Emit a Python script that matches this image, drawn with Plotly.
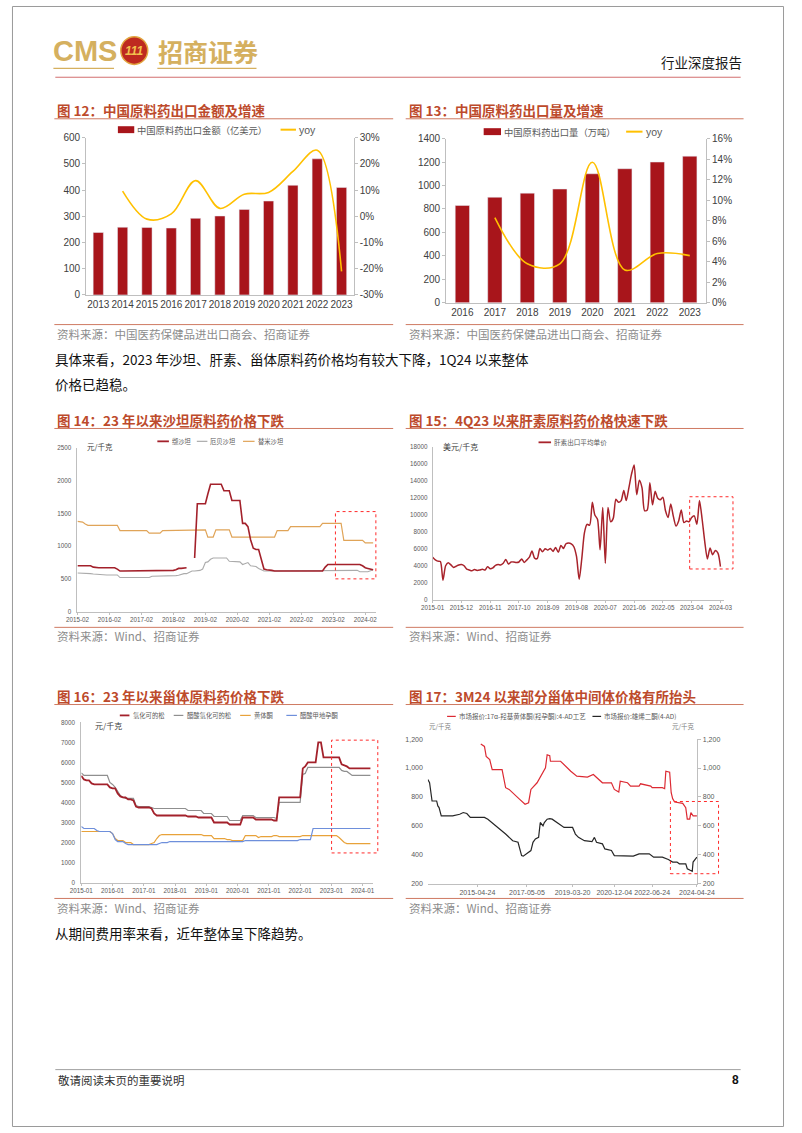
import plotly.graph_objects as go
import pandas as pd

W, H = 802, 1133
def fx(x): return x / W
def fy(y): return 1 - y / H

CN = "Noto Sans CJK SC"
LAT = "Liberation Sans, Arial, Noto Sans CJK SC"
BAR_RED = "#A8151B"
YOY_YEL = "#FFC000"
TITLE_C = "#BD4A2B"
RULE_C = "#CF7A62"
SRC_C = "#8C8C8C"
AX_C = "#BFBFBF"

# ---------------- Chart 12 data ----------------
years12 = ["2013", "2014", "2015", "2016", "2017", "2018", "2019", "2020", "2021", "2022", "2023"]
export_value = [238, 258, 257, 255, 292, 301, 326, 358, 418, 519, 410]
yoy12_years = ["2014", "2015", "2016", "2017", "2018", "2019", "2020", "2021", "2022", "2023"]
export_yoy = [0.096, -0.011, 0.009, 0.136, 0.030, 0.084, 0.091, 0.171, 0.252, -0.210]
y2_ticks12 = [-0.3, -0.2, -0.1, 0, 0.1, 0.2, 0.3]
y2_text12 = ["-30%", "-20%", "-10%", "0%", "10%", "20%", "30%"]

# ---------------- Chart 13 data ----------------
years13 = ["2016", "2017", "2018", "2019", "2020", "2021", "2022", "2023"]
export_volume = [830, 900, 935, 970, 1100, 1143, 1200, 1250]
yoy13_years = ["2017", "2018", "2019", "2020", "2021", "2022", "2023"]
volume_yoy = [0.083, 0.038, 0.038, 0.137, 0.032, 0.048, 0.046]

# ---------------- Chart 14 data (monthly 2015-02 .. 2024-05) ----------------
months14 = pd.date_range("2015-02-01", "2024-05-01", freq="MS")
valsartan = ([700] * 6 + [680] + [670] * 8 + [650] + [620] * 14 + [630] * 7 + [640, 660, 660, 670, 670]
             + [None, None] + [820] + [1650] * 4 + [1800] + [1950] * 5 + [1850] * 3 + [1700] * 4
             + [1350, 1350, 1300, 1100, 970, 950, 950, 800, 650, 640, 640, 630] + [620] * 19
             + [680] + [720] * 13 + [700, 670, 660, 650, 640])
irbesartan = ([590, 590, 590, 585, 580, 580, 575, 570, 570] + [560] * 7 + [520] * 12 + [540] * 8
              + [545, 550, 555, 570, 580, 580, 600, 620, 620, 620, 630, 650, 750, 760, 800] + [820] * 6
              + [770] * 4 + [760, 720, 740, 750, 700, 690, 690, 660, 640] + [620] * 23 + [630] * 13
              + [610] * 4 + [625, 640])
telmisartan = ([1380, 1380, 1370, 1340, 1320] + [1320] * 11 + [1240] * 11 + [1200] * 5 + [1240] * 16
               + [1250] + [1140] * 3 + [1250] * 6 + [1140] * 17 + [1240] * 5 + [1300] * 12
               + [1350] * 8 + [1090] * 8 + [1050] * 4)

# ---------------- Chart 15 data (monthly 2015-01 .. 2024-03) ----------------
months15 = pd.date_range("2015-01-01", "2024-03-01", freq="MS")
heparin = [5000, 4700, 4550, 4500, 2300, 4000, 4350, 4100, 3800, 3950, 4100, 4150,
           4000, 3600, 3500, 3400, 3550, 3450, 3500, 3600, 3500, 3900, 3650, 3750,
           4050, 4150, 4100, 4300, 4750, 4200, 4450, 4450, 4400, 4450, 4800, 4400,
           4700, 5050, 5750, 4900, 4850, 6050, 5650, 6000, 5850, 6050, 5700, 6150,
           5600, 6400, 6050, 6600, 6700, 6600, 6250, 5100, 2400, 4800, 7900, 8900,
           8800, 11500, 10000, 9500, 5900, 10900, 4300, 10900, 9200, 9600, 11850, 11500,
           11700, 12900, 11700, 13200, 14800, 15900, 12400, 14100, 13200, 10500, 10600, 13800,
           11200, 12800, 12000, 11800, 12100, 10500, 9700, 11300, 9800, 8700, 9300, 10600,
           9100, 9300, 9200, 9700, 9900, 8900, 11700, 9500, 6800, 4800, 6100, 5300,
           5800, 5500, 3900]

# ---------------- Chart 16 data (monthly 2015-01 .. 2024-04) ----------------
months16 = pd.date_range("2015-01-01", "2024-04-01", freq="MS")
hydrocortisone = ([5330, 5150, 5100, 5100, 4950] + [4900] * 6
                  + [4750, 4700, 4700, 4450, 4300, 4250, 4250, 4150, 4150, 4100, 3800] + [3750] * 5
                  + [3700, 3450, 3350] + [3350] * 11 + [3300] * 4 + [3250] * 6 + [3000] + [3000] * 5
                  + [2900] * 5 + [3250] + [3250] * 4 + [3150] * 7 + [3100, 3100] + [4250] + [4250] * 7
                  + [4250] + [5700, 5800, 6000] + [6000] * 3 + [7000, 7000] + [6250] + [6250] * 6
                  + [5900, 5850, 5800, 5700] + [5700] * 8)
hydrocortisone_ac = ([5480, 5350] + [5350] * 9 + [5000, 4900, 4750, 4550, 4350, 4250] + [4200] * 4
                     + [3850] + [3800] * 5 + [3750] + [3700] * 13 + [3600] * 6 + [3450] * 4
                     + [3300] * 6 + [3100] * 5 + [3350] * 5 + [3250] * 8 + [3200] + [4000] * 9
                     + [5400, 5450, 5750] + [5750] * 12 + [5600, 5550, 5550, 5450] + [5350] * 8)
progesterone = ([2550] * 12 + [2450, 2200] + [2100] * 3 + [2000] * 3 + [1900] * 7
                + [1950, 2000, 2200, 2350] + [2400] * 16 + [2350] * 4 + [2200] * 5 + [2150] * 2
                + [2100] * 5 + [2350] + [2350] * 4 + [2250] + [2300] * 5 + [2350] * 2 + [2300] * 9
                + [2350] * 14 + [2250, 2150, 2000] + [1950] * 10)
megestrol_ac = ([2800] + [2700] * 5 + [2600] + [2550] * 5 + [2450, 2150] + [2050] * 3 + [1950]
                + [1900] * 12 + [1950] + [2000] * 3 + [2050] * 29 + [2100] * 21 + [2150] * 5
                + [2700] * 23)

# ---------------- Chart 17 data ----------------
ohp_dates = ["2015-06-14", "2015-08-08", "2015-09-03", "2015-10-26", "2015-12-02", "2016-04-28",
             "2016-06-20", "2016-08-11", "2017-01-17", "2017-04-07", "2017-05-30", "2017-07-04",
             "2017-10-04", "2018-02-07", "2018-03-04", "2018-04-12", "2018-04-22", "2018-09-21",
             "2019-02-21", "2019-05-22", "2019-10-28", "2020-01-25", "2020-06-09", "2020-10-22",
             "2020-12-04", "2021-02-09", "2021-03-03", "2021-06-20", "2021-08-04", "2021-12-10",
             "2022-01-01", "2022-06-03", "2022-06-24", "2022-11-24", "2022-12-28", "2023-01-15",
             "2023-03-13", "2023-04-05", "2023-04-27", "2023-05-27", "2023-09-25", "2023-11-09",
             "2023-12-02", "2024-01-07", "2024-01-25", "2024-02-27", "2024-04-24"]
ohp_price = [1166, 1150, 1081, 1058, 989, 989, 864, 852, 783, 749, 760, 852,
             898, 1001, 1092, 1085, 1047, 1047, 978, 944, 937, 955, 898, 898,
             852, 834, 909, 898, 875, 875, 891, 875, 864, 864, 857, 978,
             971, 829, 788, 765, 756, 726, 646, 646, 692, 669, 669]
ad_dates = ["2013-04-12", "2013-05-08", "2013-06-14", "2013-08-22", "2013-09-09", "2013-09-27",
            "2013-10-30", "2014-04-19", "2014-08-03", "2014-09-24", "2014-11-17", "2015-01-08",
            "2015-08-08", "2015-09-28", "2016-06-20", "2016-10-04", "2016-12-23", "2017-02-14",
            "2017-03-11", "2017-05-05", "2017-07-04", "2017-08-04", "2017-09-09", "2017-10-27",
            "2017-11-21", "2018-01-01", "2018-01-21", "2018-03-04", "2018-04-12", "2018-05-18",
            "2018-08-03", "2018-11-12", "2019-03-20", "2019-05-01", "2019-06-16", "2019-09-13",
            "2020-01-04", "2020-02-10", "2020-03-12", "2020-06-09", "2020-07-15", "2020-10-22",
            "2020-12-04", "2021-09-14", "2021-12-10", "2022-05-11", "2022-07-16", "2022-11-24",
            "2023-02-21", "2023-04-27", "2023-07-01", "2023-08-05", "2023-11-09", "2023-12-02",
            "2024-01-15", "2024-02-14", "2024-02-27", "2024-03-21", "2024-04-24"]
ad_price = [921, 898, 772, 772, 738, 726, 669, 669, 680, 692, 685, 658,
            658, 646, 543, 497, 486, 394, 390, 406, 429, 486, 509, 520,
            623, 600, 623, 646, 650, 646, 623, 589, 589, 543, 520, 497,
            490, 520, 486, 475, 440, 429, 394, 390, 406, 406, 383, 383,
            367, 349, 349, 337, 337, 303, 292, 285, 349, 360, 383]
ticks17 = ["2015-04-24", "2017-05-05", "2019-03-20", "2020-12-04", "2022-06-24", "2024-04-24"]

fig = go.Figure()

# Chart 12
fig.add_trace(go.Bar(x=years12, y=export_value, name="中国原料药出口金额（亿美元）", marker_color=BAR_RED,
                     width=0.42, xaxis="x", yaxis="y", showlegend=False))
fig.add_trace(go.Scatter(x=yoy12_years, y=export_yoy, name="yoy", mode="lines",
                         line=dict(color=YOY_YEL, width=1.6, shape="spline", smoothing=1.0),
                         xaxis="x", yaxis="y2", showlegend=False))
# Chart 13
fig.add_trace(go.Bar(x=years13, y=export_volume, name="中国原料药出口量（万吨）", marker_color=BAR_RED,
                     width=0.44, xaxis="x2", yaxis="y3", showlegend=False))
fig.add_trace(go.Scatter(x=yoy13_years, y=volume_yoy, name="yoy", mode="lines",
                         line=dict(color=YOY_YEL, width=1.6, shape="spline", smoothing=1.0),
                         xaxis="x2", yaxis="y4", showlegend=False))
# Chart 14
fig.add_trace(go.Scatter(x=months14, y=irbesartan, name="厄贝沙坦", mode="lines",
                         line=dict(color="#ABABAB", width=1.1), xaxis="x3", yaxis="y5", showlegend=False))
fig.add_trace(go.Scatter(x=months14, y=telmisartan, name="替米沙坦", mode="lines",
                         line=dict(color="#E0A458", width=1.2), xaxis="x3", yaxis="y5", showlegend=False))
fig.add_trace(go.Scatter(x=months14, y=valsartan, name="缬沙坦", mode="lines", connectgaps=False,
                         line=dict(color="#A3212B", width=1.6), xaxis="x3", yaxis="y5", showlegend=False))
# Chart 15
fig.add_trace(go.Scatter(x=months15, y=heparin, name="肝素出口平均单价", mode="lines",
                         line=dict(color="#A8232B", width=1.5, shape="spline", smoothing=0.7),
                         xaxis="x4", yaxis="y6", showlegend=False))
# Chart 16
fig.add_trace(go.Scatter(x=months16, y=hydrocortisone_ac, name="醋酸氢化可的松", mode="lines",
                         line=dict(color="#8F8F8F", width=1.2), xaxis="x5", yaxis="y7", showlegend=False))
fig.add_trace(go.Scatter(x=months16, y=progesterone, name="黄体酮", mode="lines",
                         line=dict(color="#E8A23A", width=1.2), xaxis="x5", yaxis="y7", showlegend=False))
fig.add_trace(go.Scatter(x=months16, y=megestrol_ac, name="醋酸甲地孕酮", mode="lines",
                         line=dict(color="#6E8FDB", width=1.2), xaxis="x5", yaxis="y7", showlegend=False))
fig.add_trace(go.Scatter(x=months16, y=hydrocortisone, name="氢化可的松", mode="lines",
                         line=dict(color="#A3212B", width=1.8), xaxis="x5", yaxis="y7", showlegend=False))
# Chart 17
fig.add_trace(go.Scatter(x=ad_dates, y=ad_price, name="市场报价:雄烯二酮(4-AD)", mode="lines",
                         line=dict(color="#262626", width=1.2), xaxis="x6", yaxis="y8", showlegend=False))
fig.add_trace(go.Scatter(x=ohp_dates, y=ohp_price, name="市场报价:17α-羟基黄体酮(羟孕酮):4-AD工艺",
                         mode="lines", line=dict(color="#DC2A33", width=1.2), xaxis="x6", yaxis="y9",
                         showlegend=False))

tf_big = dict(family=LAT, size=10, color="#404040")
tf_small = dict(family=LAT, size=6.3, color="#595959")
common = dict(showgrid=False, zeroline=False, showline=True, linecolor=AX_C, linewidth=1)

fig.update_layout(
    width=W, height=H, autosize=False,
    margin=dict(l=0, r=0, t=0, b=0),
    paper_bgcolor="white", plot_bgcolor="white",
    showlegend=False,
    font=dict(family=LAT),
    xaxis=dict(domain=[fx(77), fx(355)], anchor="y", type="category", range=[-0.5, 10.5],
               tickfont=tf_big, ticks="", tickangle=0, **common),
    yaxis=dict(domain=[fy(292), fy(133)], anchor="x", range=[0, 600], dtick=100,
               tickfont=tf_big, ticks="outside", ticklen=3, tickcolor=AX_C, **common),
    yaxis2=dict(overlaying="y", side="right", anchor="x", range=[-0.3, 0.3],
                tickvals=y2_ticks12, ticktext=y2_text12,
                tickfont=tf_big, ticks="outside", ticklen=3, tickcolor=AX_C, **common),
    xaxis2=dict(domain=[fx(451), fx(721)], anchor="y3", type="category", range=[-0.5, 7.5],
                tickfont=tf_big, ticks="", tickangle=0, **common),
    yaxis3=dict(domain=[fy(300), fy(134)], anchor="x2", range=[0, 1400], dtick=200,
                tickfont=tf_big, ticks="outside", ticklen=3, tickcolor=AX_C, **common),
    yaxis4=dict(overlaying="y3", side="right", anchor="x2", range=[0, 0.16], dtick=0.02,
                tickformat=".0%", tickfont=tf_big, ticks="outside", ticklen=3, tickcolor=AX_C, **common),
    xaxis3=dict(domain=[fx(68), fx(378)], anchor="y5", type="date", tickangle=0,
                range=["2015-02-01", "2024-06-01"], tick0="2015-02-01", dtick="M12", tickformat="%Y-%m",
                tickfont=tf_small, ticks="outside", ticklen=2, tickcolor=AX_C, **common),
    yaxis5=dict(domain=[fy(612), fy(447)], anchor="x3", range=[0, 2500], dtick=500, tickformat="d",
                tickfont=tf_small, ticks="", ticklabelstandoff=4, **common),
    xaxis4=dict(domain=[fx(437), fx(740)], anchor="y6", type="date", tickangle=0,
                range=["2015-01-01", "2024-04-15"], tick0="2015-01-01", dtick="M11", tickformat="%Y-%m",
                tickfont=tf_small, ticks="outside", ticklen=2, tickcolor=AX_C, **common),
    yaxis6=dict(domain=[fy(600), fy(446)], anchor="x4", range=[0, 18000], dtick=2000, tickformat="d",
                tickfont=tf_small, ticks="", ticklabelstandoff=3, **common),
    xaxis5=dict(domain=[fx(72), fx(375)], anchor="y7", type="date", tickangle=0,
                range=["2015-01-01", "2024-05-01"], tick0="2015-01-01", dtick="M12", tickformat="%Y-%m",
                tickfont=tf_small, ticks="outside", ticklen=2, tickcolor=AX_C, **common),
    yaxis7=dict(domain=[fy(886), fy(724)], anchor="x5", range=[0, 8000], dtick=1000, tickformat="d",
                tickfont=tf_small, ticks="", ticklabelstandoff=4, **common),
    xaxis6=dict(domain=[fx(432), fx(712)], anchor="y8", type="date", tickangle=0,
                range=["2013-04-12", "2024-05-01"], tickvals=ticks17, tickformat="%Y-%m-%d",
                tickfont=dict(family=LAT, size=7, color="#595959"), ticks="outside", ticklen=2,
                tickcolor=AX_C, **common),
    yaxis8=dict(domain=[fy(887), fy(741)], anchor="x6", range=[200, 1200], dtick=200, tickformat=",",
                tickfont=dict(family=LAT, size=7, color="#595959"), showgrid=False, zeroline=False,
                showline=False, ticks="", ticklabelstandoff=4),
    yaxis9=dict(overlaying="y8", side="right", anchor="x6", range=[200, 1200], dtick=200, tickformat=",",
                tickfont=dict(family=LAT, size=7, color="#595959"), ticks="outside", ticklen=3,
                tickcolor=AX_C, **common),
)

shapes = []
annots = []

def line(x0, y0, x1, y1, color, width=1, dash="solid"):
    shapes.append(dict(type="line", xref="paper", yref="paper", x0=fx(x0), y0=fy(y0), x1=fx(x1), y1=fy(y1),
                       line=dict(color=color, width=width, dash=dash)))

def rect(x0, y0, x1, y1, fill=None, color=None, width=0, dash="solid"):
    d = dict(type="rect", xref="paper", yref="paper", x0=fx(x0), y0=fy(y1), x1=fx(x1), y1=fy(y0),
             line=dict(color=color if color else "rgba(0,0,0,0)", width=width, dash=dash))
    if fill:
        d["fillcolor"] = fill
    shapes.append(d)

def text(t, x, y, size, color="#000000", anchor="left", family=CN, bold=False):
    if bold:
        t = "<b>" + t + "</b>"
    annots.append(dict(text=t, x=fx(x), y=fy(y), xref="paper", yref="paper", xanchor=anchor,
                       yanchor="middle", showarrow=False, font=dict(family=family, size=size, color=color)))

# page frame
rect(0.5, 0.5, 801.5, 1132.5, color="#9A9A9A", width=1)

# header
GOLD = "#D5B05F"
text("CMS", 41, 45, 29, GOLD, family="Liberation Sans", bold=True)
shapes.append(dict(type="circle", xref="paper", yref="paper", x0=fx(113), x1=fx(141), y0=fy(59), y1=fy(31),
                   fillcolor="#BE2A20", line=dict(color="#E2A640", width=1.5)))
text("<i>111</i>", 127, 45, 12, "#F2C24E", anchor="center", family="Liberation Sans", bold=True)
text("招商证券", 150, 45, 25, GOLD, bold=True)
line(43, 63, 106, 63, GOLD, 1.2)
line(151, 63, 254, 63, GOLD, 1.2)
text("行业深度报告", 760, 57, 13.5, "#1A1A1A", anchor="right")
line(45, 72, 757, 72, "#D26E6E", 1)

# chart titles, rules and sources
def block(x0, x1, title, ty, rule_y, src, src_y, src_rule_y):
    text(title, x0 + 1, ty, 13.5, TITLE_C, bold=True)
    line(x0, rule_y, x1, rule_y, RULE_C, 1)
    line(x0, src_rule_y, x1, src_rule_y, RULE_C, 1)
    text(src, x0 + 1, src_y, 11.5, SRC_C)

block(44, 396, "图 12：中国原料药出口金额及增速", 105, 114, "资料来源：中国医药保健品进出口商会、招商证券", 332, 322)
block(409, 760, "图 13：中国原料药出口量及增速", 105, 114, "资料来源：中国医药保健品进出口商会、招商证券", 332, 322)
block(44, 396, "图 14：23 年以来沙坦原料药价格下跌", 418, 427, "资料来源：Wind、招商证券", 637, 628)
block(409, 760, "图 15：4Q23 以来肝素原料药价格快速下跌", 418, 427, "资料来源：Wind、招商证券", 637, 628)
block(44, 396, "图 16：23 年以来甾体原料药价格下跌", 697, 706, "资料来源：Wind、招商证券", 912, 902)
block(409, 760, "图 17：3M24 以来部分甾体中间体价格有所抬头", 697, 706, "资料来源：Wind、招商证券", 912, 902)

# body text
text("具体来看，2023 年沙坦、肝素、甾体原料药价格均有较大下降，1Q24 以来整体", 43, 357, 13.5, "#111111")
text("价格已趋稳。", 43, 382, 13.5, "#111111")
text("从期间费用率来看，近年整体呈下降趋势。", 43, 937, 13.5, "#111111")

# footer
line(45, 1075, 757, 1075, "#A0A0A0", 1)
text("敬请阅读末页的重要说明", 46, 1086, 11.5, "#333333")
text("8", 757, 1086, 12, "#111111", anchor="right", family="Liberation Sans", bold=True)

# legends (manual)
LEG_C = "#595959"
rect(110, 121.5, 127, 128.5, fill=BAR_RED)
text("中国原料药出口金额（亿美元）", 128, 125, 9.3, LEG_C)
line(279, 125, 295, 125, YOY_YEL, 2)
text("yoy", 296, 125, 10.5, LEG_C, family=LAT)

rect(490, 123.5, 508, 130.5, fill=BAR_RED)
text("中国原料药出口量（万吨）", 509, 127, 9.3, LEG_C)
line(638, 127, 655, 127, YOY_YEL, 2)
text("yoy", 657, 127, 10.5, LEG_C, family=LAT)

line(151, 440, 163, 440, "#A3212B", 1.8)
text("缬沙坦", 164, 440, 6.3, LEG_C)
line(192, 440, 203, 440, "#ABABAB", 1.2)
text("厄贝沙坦", 204, 440, 6.3, LEG_C)
line(240, 440, 252, 440, "#E0A458", 1.2)
text("替米沙坦", 253, 440, 6.3, LEG_C)
text("元/千克", 76, 445, 7.5, "#404040")

line(547, 441, 560, 441, "#A8232B", 1.8)
text("肝素出口平均单价", 561, 441, 6.6, LEG_C)
text("美元/千克", 446, 445, 8, "#404040")

line(112, 717, 122, 717, "#A3212B", 1.8)
text("氢化可的松", 124, 717, 6.3, LEG_C)
line(168, 717, 178, 717, "#8F8F8F", 1.2)
text("醋酸氢化可的松", 180, 717, 6.3, LEG_C)
line(237, 717, 248, 717, "#E8A23A", 1.2)
text("黄体酮", 249, 717, 6.3, LEG_C)
line(285, 717, 296, 717, "#6E8FDB", 1.2)
text("醋酸甲地孕酮", 297, 717, 6.3, LEG_C)
text("元/千克", 84, 727, 8, "#404040")

line(452, 718, 461, 718, "#DC2A33", 1.2)
text("市场报价:17α-羟基黄体酮(羟孕酮):4-AD工艺", 462, 718, 6.5, LEG_C)
line(603, 718, 612, 718, "#262626", 1.2)
text("市场报价:雄烯二酮(4-AD)", 613, 718, 6.5, LEG_C)
text("元/千克", 431, 728, 6.5, "#7F7F7F")
text("元/千克", 712, 728, 6.5, "#7F7F7F", anchor="right")

# highlight boxes
BOX = "#FF2A2A"
rect(336, 511, 378, 579, color=BOX, width=1, dash="dot")
rect(704, 496, 749, 569, color=BOX, width=1, dash="dot")
rect(332, 742, 380, 856, color=BOX, width=1, dash="dot")
rect(684, 804, 734, 877, color=BOX, width=1, dash="dot")

fig.update_layout(shapes=shapes, annotations=annots)
fig.write_html("out.html", post_script="document.body.style.margin='0';document.body.style.overflow='hidden';")
